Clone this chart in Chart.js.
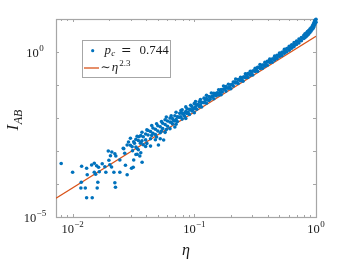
<!DOCTYPE html>
<html>
<head>
<meta charset="utf-8">
<script src="https://cdn.jsdelivr.net/npm/chart.js@4.4.1/dist/chart.umd.min.js"></script>
<style>
html,body{margin:0;padding:0;background:#fff}
canvas{display:block}
</style>
</head>
<body>
<canvas id="chart" width="349" height="262"></canvas>
<script>
// ===== DATA (stored as [log10 eta, log10 I_AB]) =====
const sparsePts = [
[-2.094,-3.379],[-2.000,-3.645],[-1.926,-3.464],[-1.885,-3.524],[-1.880,-3.718],[-1.844,-3.424],
[-1.822,-3.373],[-1.803,-3.445],[-1.787,-3.494],[-1.757,-3.385],[-1.735,-3.476],[-1.822,-3.645],
[-1.811,-3.706],[-1.781,-3.627],[-1.727,-3.645],[-1.929,-3.948],[-1.932,-4.121],[-1.896,-4.121],
[-1.793,-3.948],[-1.798,-4.121],[-1.885,-4.415],[-1.839,-4.415],[-1.707,-3.000],[-1.678,-3.030],
[-1.689,-3.142],[-1.653,-3.082],[-1.645,-3.152],[-1.702,-3.282],[-1.661,-3.645],[-1.680,-3.485],
[-1.694,-3.415],[-1.653,-3.961],[-1.648,-4.100],[-1.612,-3.645],[-1.612,-3.273],[-1.580,-2.930],
[-1.572,-3.070],[-1.566,-3.433],[-1.552,-3.718],[-1.541,-2.727],[-1.525,-2.827],[-1.508,-2.991],
[-1.502,-3.494],[-1.492,-2.767],[-1.584,-2.918],[-1.552,-2.818],[-1.525,-2.615],[-1.498,-2.718],
[-1.511,-2.870],[-1.456,-2.567],[-1.443,-2.767],[-1.470,-3.100],[-1.429,-3.342],[-1.448,-3.152],
[-1.498,-3.273],[-1.516,-3.524],[-1.295,-2.818],[-1.252,-2.667]
]

const bandPts = [
[-1.48,-2.647],[-1.48,-2.877],[-1.48,-3.107],[-1.46,-2.681],[-1.46,-2.961],
[-1.44,-2.535],[-1.44,-2.735],[-1.44,-3.055],[-1.42,-2.569],[-1.42,-2.809],
[-1.40,-2.483],[-1.40,-2.663],[-1.40,-2.863],[-1.38,-2.517],[-1.38,-2.377],
[-1.36,-2.411],[-1.36,-2.631],[-1.36,-2.851],[-1.34,-2.465],[-1.34,-2.305],
[-1.32,-2.339],[-1.32,-2.499],[-1.32,-2.659],[-1.30,-2.233],[-1.30,-2.393],
[-1.28,-2.267],[-1.28,-2.447],[-1.28,-2.627],[-1.26,-2.161],[-1.26,-2.321],
[-1.24,-2.195],[-1.24,-2.055],[-1.24,-2.435],[-1.22,-2.089],[-1.22,-2.249],
[-1.20,-2.123],[-1.20,-2.003],[-1.20,-2.323],[-1.18,-2.017],[-1.18,-2.177],
[-1.16,-1.931],[-1.16,-2.091],[-1.16,-2.271],[-1.14,-1.965],[-1.14,-2.105],
[-1.12,-1.859],[-1.12,-1.979],[-1.10,-1.853],[-1.10,-2.033],[-1.10,-1.753],
[-1.08,-1.847],[-1.08,-1.947],[-1.06,-1.721],[-1.06,-1.861],[-1.04,-1.735],
[-1.04,-1.895],[-1.02,-1.649],[-1.02,-1.789],[-1.00,-1.563],[-1.00,-1.703],
[-1.00,-1.843],[-0.98,-1.597],[-0.98,-1.737],[-0.96,-1.511],[-0.96,-1.651],
[-0.94,-1.525],[-0.94,-1.665],[-0.92,-1.399],[-0.92,-1.539],[-0.90,-1.413],
[-0.90,-1.553],[-0.88,-1.347],[-0.88,-1.467],[-0.86,-1.361],[-0.86,-1.241],
[-0.84,-1.255],[-0.84,-1.415],[-0.82,-1.249],[-0.82,-1.329],[-0.80,-1.143],
[-0.80,-1.303],[-0.78,-1.137],[-0.78,-1.297],[-0.76,-1.131],[-0.76,-1.031],
[-0.74,-1.045],[-0.74,-1.185],[-0.72,-0.979],[-0.72,-1.099],[-0.70,-0.993],
[-0.70,-1.113],[-0.68,-0.907],[-0.68,-1.027],[-0.66,-0.821],[-0.66,-0.941],
[-0.64,-0.835],[-0.64,-0.955],[-0.62,-0.769],[-0.62,-0.869],[-0.60,-0.763],
[-0.60,-0.883],[-0.58,-0.657],[-0.58,-0.777],[-0.56,-0.651],[-0.56,-0.771],
[-0.54,-0.585],[-0.54,-0.705],[-0.52,-0.579],[-0.52,-0.699],[-0.50,-0.493],
[-0.50,-0.593],[-0.48,-0.467],[-0.48,-0.587],[-0.46,-0.381],[-0.46,-0.501],
[-0.44,-0.395],[-0.44,-0.495],[-0.42,-0.309],[-0.42,-0.429],[-0.40,-0.283],
[-0.40,-0.403],[-0.38,-0.217],[-0.38,-0.317],[-0.36,-0.211],[-0.36,-0.311],
[-0.34,-0.125],[-0.34,-0.245],[-0.32,-0.099],[-0.32,-0.199],[-0.30,-0.033],
[-0.30,-0.133],[-0.28,-0.007],[-0.28,-0.107],[-0.26,0.079],[-0.26,-0.041],
[-0.24,0.105],[-0.24,0.005],[-0.22,0.171],[-0.22,0.051],[-0.20,0.217],
[-0.20,0.117],[-0.18,0.283],[-0.18,0.163],[-0.16,0.329],[-0.16,0.229],
[-0.14,0.395],[-0.14,0.275],[-0.12,0.441],[-0.12,0.341],[-0.10,0.507],
[-0.10,0.407],[-0.09,0.550],[-0.09,0.440],[-0.08,0.573],[-0.08,0.473],
[-0.07,0.616],[-0.07,0.506],[-0.06,0.649],[-0.06,0.549],[-0.05,0.692],
[-0.05,0.592],[-0.04,0.735],[-0.04,0.635],[-0.03,0.788],[-0.03,0.688],
[-0.025,0.820],[-0.025,0.720],[-0.02,0.851],[-0.02,0.751],[-0.015,0.903],
[-0.015,0.793],[-0.01,0.954],[-0.01,0.834],[-0.005,0.970],[-0.005,0.886],
[0,0.990],[0,0.905]
]

// middle row of the dense band
const bandMidPts = [
[-1.17,-2.074],[-1.15,-2.048],[-1.13,-1.972],[-1.11,-1.966],[-1.09,-1.890],[-1.07,-1.804],
[-1.05,-1.818],[-1.03,-1.742],[-1.01,-1.746],[-0.99,-1.660],[-0.97,-1.594],[-0.95,-1.598],
[-0.93,-1.532],[-0.91,-1.466],[-0.89,-1.450],[-0.87,-1.434],[-0.85,-1.338],[-0.83,-1.312],
[-0.81,-1.236],[-0.79,-1.230],[-0.77,-1.214],[-0.75,-1.118],[-0.73,-1.092],[-0.71,-1.066],
[-0.69,-0.990],[-0.67,-0.914],[-0.65,-0.918],[-0.63,-0.852],[-0.61,-0.836],[-0.59,-0.750],
[-0.57,-0.724],[-0.55,-0.668],[-0.53,-0.652],[-0.51,-0.566],[-0.49,-0.550],[-0.47,-0.464],
[-0.45,-0.468],[-0.43,-0.392],[-0.41,-0.366],[-0.39,-0.290],[-0.37,-0.284],[-0.35,-0.208],
[-0.33,-0.172],[-0.31,-0.106],[-0.29,-0.080],[-0.27,-0.004],[-0.25,0.022],[-0.23,0.098],
[-0.21,0.124],[-0.19,0.200],[-0.17,0.236],[-0.15,0.312],[-0.13,0.348],[-0.11,0.424]
]

// outer points of the cloud where the band is still wide
const bandEdgePts = [
[-1.47,-2.554],[-1.47,-2.924],[-1.43,-2.432],[-1.43,-2.692],[-1.39,-2.360],[-1.39,-2.770],
[-1.35,-2.228],[-1.35,-2.528],[-1.31,-2.176],[-1.31,-2.576],[-1.27,-2.104],[-1.27,-2.394],
[-1.23,-1.972],[-1.23,-2.352],[-1.19,-1.930],[-1.19,-2.130],[-1.15,-1.828],[-1.15,-2.188],
[-1.11,-1.776],[-1.07,-1.664],[-1.07,-2.014],[-1.03,-1.612],[-0.99,-1.500],[-0.95,-1.438],
[-0.90,-1.313]
]

// fitted power law ~ eta^2.3, end points
const fitEta = [0.0073, 1]
const fitIab = [3.7e-5, 3.0]

const xRange = [0.0073, 1]
const yRange = [1e-5, 10]
const xLabelExps = [-2, -1, 0]
const yLabelExps = [0, -5]
const yTickExps = [-5, -4, -3, -2, -1, 0, 1]
const xTickDecades = [-3, -2, -1]

const legendPc = "0.744"
const fitPower = "2.3"

const BLUE = "#0072BD"
const ORANGE = "#D95319"
const AXIS = "#a6a6a6"
const TEXT = "#1a1a1a"
const SERIF = '"Liberation Serif","DejaVu Serif",serif'


// ===== HELPERS =====
function toXY(list){
return list.map(p => ({x: Math.pow(10, p[0]), y: Math.pow(10, p[1])}))
}

function expText(e){
return e < 0 ? "\u2212" + (-e) : String(e)
}

function partsWidth(ctx, parts){
let w = 0
parts.forEach(p => { ctx.font = p.f; w += ctx.measureText(p.t).width + (p.gap || 0) })
return w
}

function drawParts(ctx, parts, x, y){
parts.forEach(p => {
ctx.font = p.f
ctx.fillText(p.t, x, y + (p.dy || 0))
x += ctx.measureText(p.t).width + (p.gap || 0)
})
}

function powerParts(e){
return [
{t: "10", f: "12.5px " + SERIF, gap: 0.3},
{t: expText(e), f: "9px " + SERIF, dy: -5.5}
]
}


// ===== AXES / LABELS / LEGEND PLUGIN =====
const matlabAxes = {
id: "matlabAxes",
beforeDatasetsDraw(chart){
const ctx = chart.ctx
const a = chart.chartArea
const xs = chart.scales.x
const ys = chart.scales.y
ctx.save()
ctx.strokeStyle = AXIS
ctx.lineWidth = 1

// x ticks (major + minor), bottom and top, pointing inwards
xTickDecades.forEach(d => {
for(let m = 1; m <= 9; m++){
const v = m * Math.pow(10, d)
if(v < xRange[0] || v > xRange[1]) continue
const px = Math.round(xs.getPixelForValue(v)) + 0.5
const len = m === 1 ? 3 : 2
ctx.beginPath()
ctx.moveTo(px, a.bottom); ctx.lineTo(px, a.bottom - len)
ctx.moveTo(px, a.top); ctx.lineTo(px, a.top + len)
ctx.stroke()
}
})

// y ticks, left and right
yTickExps.forEach(e => {
const py = Math.round(ys.getPixelForValue(Math.pow(10, e))) + 0.5
ctx.beginPath()
ctx.moveTo(a.left, py); ctx.lineTo(a.left + 3, py)
ctx.moveTo(a.right, py); ctx.lineTo(a.right - 3, py)
ctx.stroke()
})

// box
ctx.lineWidth = 1.2
ctx.strokeRect(Math.round(a.left) + 0.5, Math.round(a.top) + 0.5,
Math.round(a.right - a.left), Math.round(a.bottom - a.top))
ctx.restore()
},
afterDraw(chart){
const ctx = chart.ctx
const xs = chart.scales.x
const ys = chart.scales.y
ctx.save()
ctx.fillStyle = TEXT
ctx.textBaseline = "alphabetic"
ctx.textAlign = "left"

// x tick labels
xLabelExps.forEach(e => {
const parts = powerParts(e)
const px = xs.getPixelForValue(Math.pow(10, e))
drawParts(ctx, parts, px - partsWidth(ctx, parts) / 2, 232.5)
})

// y tick labels
yLabelExps.forEach(e => {
const parts = powerParts(e)
const py = ys.getPixelForValue(Math.pow(10, e))
drawParts(ctx, parts, 35 - partsWidth(ctx, parts) / 2, py + 4.5)
})

// x title
const xt = [{t: "\u03B7", f: "italic 16px " + SERIF}]
drawParts(ctx, xt, 186 - partsWidth(ctx, xt) / 2, 255)

// y title
const yt = [
{t: "I", f: "italic 17px " + SERIF, gap: 0.5},
{t: "AB", f: "italic 12px " + SERIF, dy: 3.5}
]
ctx.save()
ctx.translate(18, 120)
ctx.rotate(-Math.PI / 2)
drawParts(ctx, yt, -partsWidth(ctx, yt) / 2, 0)
ctx.restore()

// legend box
ctx.fillStyle = "#fff"
ctx.fillRect(82, 40, 88, 38)
ctx.strokeStyle = AXIS
ctx.lineWidth = 1
ctx.strokeRect(82.5, 40.5, 88, 37)

ctx.fillStyle = BLUE
ctx.beginPath()
ctx.arc(92.7, 50.7, 1.6, 0, Math.PI * 2)
ctx.fill()

ctx.strokeStyle = ORANGE
ctx.lineWidth = 1.3
ctx.beginPath()
ctx.moveTo(84, 68); ctx.lineTo(99, 68)
ctx.stroke()

ctx.fillStyle = TEXT
ctx.font = "italic 13px " + SERIF
ctx.fillText("p", 104.5, 53.5)
ctx.font = "italic 9px " + SERIF
ctx.fillText("c", 111.3, 56)
ctx.font = '12.5px "DejaVu Serif"'
ctx.fillText("=", 121, 53.5)
ctx.font = "13px " + SERIF
ctx.fillText(legendPc, 139.5, 53.5)

ctx.font = '12px "DejaVu Serif"'
ctx.fillText("\u223C", 100.5, 71)
ctx.font = "italic 13px " + SERIF
ctx.fillText("\u03B7", 111.8, 71)
ctx.font = "9px " + SERIF
ctx.fillText(fitPower, 119.2, 66)

ctx.restore()
}
}


// ===== CHART =====
const ctx = document.getElementById("chart")

new Chart(ctx, {
type: "scatter",
data: {
datasets: [
{
label: "p_c = " + legendPc,
data: toXY(sparsePts.concat(bandPts, bandMidPts, bandEdgePts)),
backgroundColor: BLUE,
borderWidth: 0,
pointRadius: 1.8,
clip: false
},
{
label: "~ eta^" + fitPower,
data: fitEta.map((x, i) => ({x: x, y: fitIab[i]})),
showLine: true,
borderColor: ORANGE,
borderWidth: 1.3,
pointRadius: 0,
tension: 0
}
]
},
options: {
responsive: false,
devicePixelRatio: 1,
animation: false,
layout: {padding: {left: 56, right: 33, top: 19, bottom: 45}},
plugins: {legend: {display: false}, tooltip: {enabled: false}},
scales: {
x: {type: "logarithmic", display: false, min: xRange[0], max: xRange[1]},
y: {type: "logarithmic", display: false, min: yRange[0], max: yRange[1]}
}
},
plugins: [matlabAxes]
})
</script>
</body>
</html>
